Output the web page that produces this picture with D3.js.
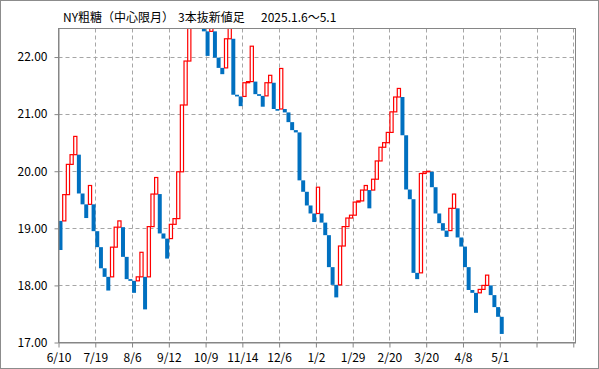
<!DOCTYPE html>
<html>
<head>
<meta charset="utf-8">
<script src="https://cdn.jsdelivr.net/npm/d3@7"></script>
<style>
  body { margin: 0; background: #fff; }
  #graph { width: 599px; height: 369px; }
  text { font-family: "Noto Sans CJK JP", "Liberation Sans", sans-serif; }
</style>
</head>
<body>
<div id="graph"></div>
<script>
// title pieces
const titleParts = ["NY粗糖（中心限月）", "3本抜新値足", "2025.1.6～5.1"];

// x axis labels, one every 10 bricks
const dateLabels = ["6/10", "7/19", "8/6", "9/12", "10/9", "11/14", "12/6", "1/2", "1/29", "2/20", "3/20", "4/8", "5/1"];

// y axis ticks
const priceTicks = [17, 18, 19, 20, 21, 22];

// brick start / end prices (close > open = up brick)
const opens = [
  19.13, 19.13, 19.59, 20.12, 20.29, 20.29, 19.61, 19.42, 19.42, 19.42,
  18.95, 18.67, 18.30, 18.15, 18.15, 18.67, 19.02, 19.02, 18.50, 18.11,
  18.08, 18.08, 18.15, 18.15, 18.15, 19.03, 19.60, 19.60, 18.91, 18.82,
  18.82, 19.07, 19.17, 19.99, 21.16, 21.93, 22.75, 23.00, 23.30, 23.30,
  22.45, 22.45, 22.45, 21.99, 21.81, 21.81, 22.32, 22.32, 21.34, 21.31,
  21.31, 21.55, 21.57, 21.57, 21.35, 21.32, 21.32, 21.55, 21.55, 21.09,
  21.09, 21.09, 21.03, 20.86, 20.72, 20.68, 19.84, 19.64, 19.40, 19.26,
  19.26, 19.26, 19.10, 18.88, 18.32, 18.01, 18.01, 18.69, 19.03, 19.18,
  19.23, 19.46, 19.48, 19.67, 19.67, 19.67, 19.86, 20.18, 20.42, 20.50,
  20.68, 21.04, 21.30, 21.30, 20.63, 19.68, 19.51, 18.22, 18.22, 19.96,
  19.99, 19.99, 19.72, 19.26, 19.09, 18.96, 18.96, 19.35, 19.35, 18.84,
  18.68, 18.32, 17.92, 17.87, 17.87, 17.93, 18.00, 18.00, 17.83, 17.62,
  17.45
];
const closes = [
  18.62, 19.59, 20.12, 20.29, 20.61, 19.61, 19.42, 19.18, 19.75, 18.95,
  18.67, 18.30, 18.15, 17.91, 18.67, 19.02, 19.13, 18.50, 18.11, 18.08,
  17.87, 18.15, 18.58, 17.58, 19.03, 19.60, 19.89, 18.91, 18.82, 18.47,
  19.07, 19.17, 19.99, 21.16, 21.93, 22.75, 23.00, 23.30, 23.55, 22.45,
  22.02, 22.60, 21.99, 21.81, 21.70, 22.32, 22.70, 21.34, 21.31, 21.14,
  21.55, 21.57, 22.19, 21.35, 21.32, 21.13, 21.55, 21.68, 21.09, 21.06,
  21.80, 21.03, 20.86, 20.72, 20.68, 19.84, 19.64, 19.40, 19.26, 19.11,
  19.72, 19.10, 18.88, 18.32, 18.01, 17.79, 18.69, 19.03, 19.18, 19.23,
  19.46, 19.48, 19.67, 19.75, 19.35, 19.86, 20.18, 20.42, 20.50, 20.68,
  21.04, 21.30, 21.45, 20.63, 19.68, 19.51, 18.22, 18.11, 19.96, 19.99,
  20.00, 19.72, 19.26, 19.09, 18.96, 18.85, 19.35, 19.60, 18.84, 18.68,
  18.32, 17.92, 17.87, 17.52, 17.93, 18.00, 18.18, 17.83, 17.62, 17.45,
  17.15
];

const width = 599, height = 369;
const plot = { left: 58.5, top: 28.5, right: 575.5, bottom: 342.5 };
const slots = 140.6;      // brick slots across the plot
const bricksPerLabel = 10;

const axisColor = "#868686";
const gridColor = "#a6a6a6";
const upColor = "#ff0000";
const downColor = "#0070c0";

const svg = d3.select("#graph")
  .append("svg")
  .attr("width", width)
  .attr("height", height);

// outer border
svg.append("rect")
  .attr("x", 0.5).attr("y", 0.5)
  .attr("width", width - 1).attr("height", height - 1)
  .attr("fill", "#fff")
  .attr("stroke", "#8c8c8c");

const x = d3.scaleLinear()
  .domain([0, slots])
  .range([plot.left, plot.right]);

const y = d3.scaleLinear()
  .domain([17, 22.5])
  .range([plot.bottom, plot.top]);

const xTicks = d3.range(0, 141, bricksPerLabel);

// grid lines
svg.append("g")
  .selectAll("line")
  .data(priceTicks.slice(1))
  .enter()
  .append("line")
    .attr("x1", plot.left).attr("x2", plot.right)
    .attr("y1", d => Math.round(y(d)) + 0.5)
    .attr("y2", d => Math.round(y(d)) + 0.5)
    .attr("stroke", gridColor)
    .attr("stroke-dasharray", "4,3");

svg.append("g")
  .selectAll("line")
  .data(xTicks.slice(1))
  .enter()
  .append("line")
    .attr("x1", d => Math.round(x(d)) + 0.5)
    .attr("x2", d => Math.round(x(d)) + 0.5)
    .attr("y1", plot.top).attr("y2", plot.bottom)
    .attr("stroke", gridColor)
    .attr("stroke-dasharray", "4,3");

// clip bricks to the plot area
svg.append("clipPath")
  .attr("id", "plot-clip")
  .append("rect")
    .attr("x", plot.left).attr("y", plot.top)
    .attr("width", plot.right - plot.left)
    .attr("height", plot.bottom - plot.top);

const bricks = closes.map((c, i) => ({ i: i, open: opens[i], close: c }));

svg.append("g")
  .attr("clip-path", "url(#plot-clip)")
  .selectAll("rect")
  .data(bricks)
  .enter()
  .append("rect")
    .attr("x", d => x(d.i) + (d.close > d.open ? 0.5 : 0))
    .attr("width", d => x(d.i + 1) - x(d.i) - (d.close > d.open ? 0.5 : -0.3))
    .attr("y", d => y(Math.max(d.open, d.close)))
    .attr("height", d => Math.abs(y(d.open) - y(d.close)))
    .attr("fill", d => d.close > d.open ? "#fff" : downColor)
    .attr("stroke", d => d.close > d.open ? upColor : "none")
    .attr("stroke-width", 1.2);

// plot frame
svg.append("rect")
  .attr("x", plot.left).attr("y", plot.top)
  .attr("width", plot.right - plot.left)
  .attr("height", plot.bottom - plot.top)
  .attr("fill", "none")
  .attr("stroke", axisColor);

// axes
const yAxis = svg.append("g")
  .attr("transform", "translate(" + plot.left + ",0)")
  .call(d3.axisLeft(y)
    .tickValues(priceTicks)
    .tickFormat(d3.format(".2f"))
    .tickSize(4)
    .tickSizeOuter(0)
    .tickPadding(7));

const xAxis = svg.append("g")
  .attr("transform", "translate(0," + plot.bottom + ")")
  .call(d3.axisBottom(x)
    .tickValues(xTicks)
    .tickFormat((d, i) => dateLabels[i] || "")
    .tickSize(5)
    .tickSizeOuter(0)
    .tickPadding(6));

[yAxis, xAxis].forEach(a => {
  a.select(".domain").attr("stroke", axisColor);
  a.selectAll(".tick line").attr("stroke", axisColor);
  a.selectAll("text")
    .attr("fill", "#000")
    .style("font-size", "12px")
    .style("font-family", "\"Noto Sans CJK JP\", \"Liberation Sans\", sans-serif");
});

// title
const titleX = [63, 178, 261];
svg.append("g")
  .selectAll("text")
  .data(titleParts)
  .enter()
  .append("text")
    .attr("x", (d, i) => titleX[i])
    .attr("y", 21.5)
    .attr("font-size", 12)
    .attr("fill", "#000")
    .text(d => d);
</script>
</body>
</html>
